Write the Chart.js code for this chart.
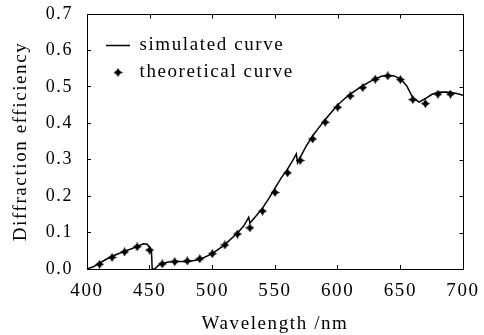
<!DOCTYPE html>
<html>
<head>
<meta charset="utf-8">
<script src="https://cdn.jsdelivr.net/npm/chart.js@4.4.1/dist/chart.umd.min.js"></script>
<style>
  html, body { margin: 0; padding: 0; background: #fff; }
  #wrap { width: 484px; height: 335px; }
</style>
</head>
<body>
<div id="wrap"><canvas id="c" width="484" height="335"></canvas></div>
<script>
// ---- data ----
const simWavelength = [400, 405, 410, 415, 420, 425, 430, 435, 440, 445, 448, 450, 451.5, 452, 454, 457, 460, 465, 470, 480, 490, 500, 510, 520, 525, 529, 530, 535, 540, 545, 550, 555, 560, 565, 567, 568, 570, 575, 580, 585, 590, 595, 600, 605, 610, 615, 620, 625, 630, 635, 640, 645, 650, 655, 660, 665, 670, 675, 680, 685, 690, 695, 700];
const simEfficiency = [0.000, 0.006, 0.016, 0.026, 0.035, 0.042, 0.049, 0.055, 0.062, 0.069, 0.068, 0.060, 0.045, 0.000, 0.000, 0.010, 0.015, 0.019, 0.021, 0.020, 0.026, 0.042, 0.067, 0.099, 0.118, 0.142, 0.126, 0.146, 0.167, 0.193, 0.222, 0.250, 0.274, 0.303, 0.316, 0.292, 0.306, 0.338, 0.365, 0.388, 0.410, 0.430, 0.450, 0.466, 0.480, 0.492, 0.503, 0.513, 0.522, 0.529, 0.532, 0.530, 0.522, 0.503, 0.470, 0.458, 0.468, 0.479, 0.485, 0.486, 0.485, 0.482, 0.477];
const theoWavelength = [410, 420, 430, 440, 450, 460, 470, 480, 490, 500, 510, 520, 530, 540, 550, 560, 570, 580, 590, 600, 610, 620, 630, 640, 650, 660, 670, 680, 690];
const theoEfficiency = [0.013, 0.032, 0.047, 0.061, 0.052, 0.014, 0.020, 0.022, 0.028, 0.042, 0.066, 0.096, 0.113, 0.159, 0.210, 0.264, 0.298, 0.357, 0.403, 0.444, 0.475, 0.498, 0.521, 0.530, 0.520, 0.465, 0.454, 0.480, 0.480];
const xTickLabels = ['400', '450', '500', '550', '600', '650', '700'];
const yTickLabels = ['0.0', '0.1', '0.2', '0.3', '0.4', '0.5', '0.6', '0.7'];
const seriesNames = ['simulated curve', 'theoretical curve'];
const xTitle = 'Wavelength /nm';
const yTitle = 'Diffraction efficiency';

// ---- marker image (4-point star) ----
function makeStar(size, inner) {
  const c = document.createElement('canvas');
  c.width = c.height = size;
  const g = c.getContext('2d');
  const r = size / 2;
  g.fillStyle = '#000';
  g.beginPath();
  for (let i = 0; i < 8; i++) {
    const a = i * Math.PI / 4 - Math.PI / 2;
    const rr = (i % 2 === 0) ? r : inner;
    g.lineTo(r + rr * Math.cos(a), r + rr * Math.sin(a));
  }
  g.closePath();
  g.fill();
  return c;
}
const star = makeStar(9, 2.4);

const SPACING = '1.6px';
const TICK = 4;
const stylePlugin = {
  id: 'paperStyle',
  beforeUpdate(chart) { chart.ctx.letterSpacing = SPACING; },
  beforeLayout(chart) { chart.ctx.letterSpacing = SPACING; },
  beforeDraw(chart) { chart.ctx.letterSpacing = SPACING; },
  afterLayout(chart) {
    const lg = chart.legend, ca = chart.chartArea;
    if (lg) { lg.left = ca.left + 11; lg.top = ca.top + 14; }
  },
  afterDraw(chart) {
    // mirrored frame (top + right) with inward ticks, positioned by the library's scales
    const { ctx, chartArea: a, scales: { x, y } } = chart;
    const al = v => Math.round(v) + 0.5;
    ctx.save();
    ctx.strokeStyle = '#000';
    ctx.lineWidth = 1;
    ctx.beginPath();
    ctx.moveTo(al(a.left) - 0.5, al(a.top));
    ctx.lineTo(al(a.right) + 0.5, al(a.top));
    ctx.moveTo(al(a.right), al(a.top));
    ctx.lineTo(al(a.right), al(a.bottom));
    x.ticks.forEach(t => {
      const px = al(x.getPixelForValue(t.value));
      ctx.moveTo(px, al(a.top));
      ctx.lineTo(px, al(a.top) + TICK);
    });
    y.ticks.forEach(t => {
      const py = al(y.getPixelForValue(t.value));
      ctx.moveTo(al(a.right), py);
      ctx.lineTo(al(a.right) - TICK, py);
    });
    ctx.stroke();
    ctx.restore();
  }
};

const FONT = "'Liberation Serif', 'Times New Roman', serif";
Chart.defaults.color = '#000';
Chart.defaults.font.family = FONT;

const xRange = { min: 400, max: 700, step: 50 };
const yRange = { min: 0, max: 0.7, step: 0.1 };

function idxLabel(labels, range) {
  return function (v) {
    const i = Math.round((v - range.min) / range.step);
    return labels[i] !== undefined ? labels[i] : '';
  };
}
function zeroPad(s) { s.paddingLeft = 0; s.paddingRight = 0; s.paddingTop = 0; s.paddingBottom = 0; }

new Chart(document.getElementById('c'), {
  type: 'scatter',
  data: {
    datasets: [
      {
        label: seriesNames[0],
        data: simWavelength.map((x, i) => ({ x: x, y: simEfficiency[i] })),
        showLine: true,
        borderColor: '#000',
        backgroundColor: '#000',
        borderWidth: 1.5,
        pointRadius: 0,
        pointHoverRadius: 0,
        pointStyle: 'line',
        tension: 0
      },
      {
        label: seriesNames[1],
        data: theoWavelength.map((x, i) => ({ x: x, y: theoEfficiency[i] })),
        showLine: false,
        borderColor: '#000',
        backgroundColor: '#000',
        pointStyle: star,
        pointRadius: 4
      }
    ]
  },
  options: {
    responsive: false,
    animation: false,
    devicePixelRatio: 1,
    layout: { padding: { left: 0, top: 14, right: 21, bottom: 0 } },
    plugins: {
      tooltip: { enabled: false },
      legend: {
        position: 'chartArea',
        align: 'start',
        labels: {
          usePointStyle: true,
          pointStyleWidth: 24,
          boxHeight: 10,
          padding: 8,
          font: { family: FONT, size: 19 },
          color: '#000'
        }
      }
    },
    scales: {
      x: {
        type: 'linear', position: 'bottom',
        min: xRange.min, max: xRange.max,
        border: { display: true, color: '#000', width: 1 },
        grid: { drawOnChartArea: false, drawTicks: true, tickLength: -TICK, color: '#000', lineWidth: 1 },
        ticks: { stepSize: xRange.step, padding: 15, maxRotation: 0, font: { size: 19 }, color: '#000',
                 callback: idxLabel(xTickLabels, xRange) },
        title: { display: true, text: xTitle, font: { size: 19 }, color: '#000', padding: { top: 0, bottom: 0 } },
        afterFit(s) { s.height = 66; zeroPad(s); }
      },
      y: {
        type: 'linear', position: 'left',
        min: yRange.min, max: yRange.max,
        border: { display: true, color: '#000', width: 1 },
        grid: { drawOnChartArea: false, drawTicks: true, tickLength: -TICK, color: '#000', lineWidth: 1 },
        ticks: { stepSize: yRange.step, padding: 18, font: { size: 18 }, color: '#000',
                 callback: idxLabel(yTickLabels, yRange) },
        title: { display: true, text: yTitle, font: { size: 19 }, color: '#000', padding: { top: 10, bottom: 0 } },
        afterFit(s) { s.width = 87; zeroPad(s); }
      }
    }
  },
  plugins: [stylePlugin]
});
</script>
</body>
</html>
